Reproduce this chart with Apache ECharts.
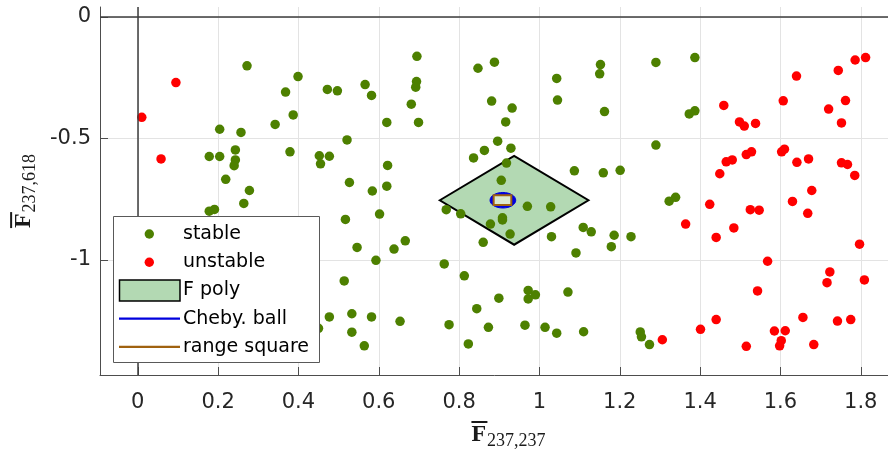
<!DOCTYPE html>
<html><head><meta charset="utf-8">
<script src="https://cdn.jsdelivr.net/npm/echarts@6/dist/echarts.min.js"></script>
<style>html,body{margin:0;padding:0;background:#fff}#c{width:888px;height:451px}</style>
</head><body><div id="c"></div>
<script>
// ---- data ----
const stableX = [0.272,0.399,0.368,0.472,0.497,0.566,0.582,0.695,0.694,0.692,0.681,0.699,0.620,0.387,0.342,0.204,0.257,0.243,0.178,0.204,
  0.243,0.240,0.219,0.278,0.264,0.178,0.191,0.379,0.452,0.477,0.455,0.521,0.622,0.527,0.584,0.620,0.602,0.517,0.768,0.847,
  0.888,0.881,0.932,0.916,0.896,0.929,0.863,0.836,0.918,0.905,0.804,0.970,1.028,0.908,0.908,0.878,0.927,0.860,1.043,1.045,
  1.152,1.150,1.162,1.087,1.159,1.201,1.290,1.387,1.373,1.387,1.290,1.323,1.339,1.109,1.129,1.030,1.186,1.179,1.228,1.091,
  0.763,0.813,0.899,0.972,0.972,0.990,1.071,0.844,0.775,0.873,0.964,1.014,1.043,1.110,0.823,1.251,1.254,1.274,0.546,0.638,
  0.666,0.593,0.514,0.477,0.533,0.582,0.653,0.533,0.564,0.450];
const stableY = [-0.201,-0.245,-0.309,-0.298,-0.304,-0.278,-0.323,-0.162,-0.266,-0.289,-0.359,-0.434,-0.434,-0.403,-0.442,-0.462,-0.475,-0.547,-0.574,-0.574,
  -0.588,-0.612,-0.668,-0.714,-0.767,-0.799,-0.792,-0.555,-0.571,-0.573,-0.604,-0.506,-0.611,-0.681,-0.716,-0.696,-0.811,-0.833,-0.793,-0.211,
  -0.186,-0.346,-0.375,-0.432,-0.511,-0.540,-0.549,-0.580,-0.601,-0.672,-0.810,-0.779,-0.781,-0.826,-0.835,-0.852,-0.893,-0.927,-0.253,-0.342,
  -0.196,-0.234,-0.389,-0.633,-0.641,-0.631,-0.187,-0.167,-0.399,-0.386,-0.527,-0.758,-0.742,-0.866,-0.884,-0.904,-0.898,-0.945,-0.904,-0.971,
  -1.016,-1.065,-1.157,-1.125,-1.160,-1.143,-1.132,-1.200,-1.266,-1.277,-1.268,-1.277,-1.301,-1.295,-1.345,-1.296,-1.316,-1.348,-0.948,-0.955,
  -0.921,-1.001,-1.086,-1.234,-1.221,-1.234,-1.252,-1.297,-1.353,-1.281];
const unstableX = [0.095,0.010,0.058,1.640,1.744,1.786,1.812,1.459,1.498,1.510,1.538,1.607,1.720,1.762,1.752,1.465,1.480,1.515,1.528,1.603,
  1.610,1.641,1.670,1.752,1.767,1.785,1.449,1.678,1.630,1.668,1.424,1.525,1.547,1.364,1.484,1.440,1.797,1.568,1.723,1.716,
  1.809,1.543,1.656,1.440,1.742,1.775,1.401,1.585,1.612,1.306,1.515,1.602,1.598,1.683];
const unstableY = [-0.270,-0.413,-0.584,-0.243,-0.220,-0.177,-0.167,-0.364,-0.432,-0.449,-0.438,-0.345,-0.379,-0.344,-0.436,-0.596,-0.588,-0.566,-0.555,-0.555,
  -0.544,-0.598,-0.584,-0.600,-0.607,-0.652,-0.645,-0.714,-0.759,-0.808,-0.771,-0.793,-0.795,-0.852,-0.868,-0.907,-0.935,-1.005,-1.049,-1.093,
  -1.082,-1.127,-1.236,-1.245,-1.251,-1.245,-1.285,-1.292,-1.291,-1.328,-1.355,-1.332,-1.353,-1.348];
const polyX = [0.752, 0.937, 1.122, 0.937];
const polyY = [-0.754, -0.572, -0.754, -0.937];
const chebyCenter = [0.909, -0.754];
const chebyRadius = 0.032;
const rangeX = [0.886, 0.930];
const rangeY = [-0.774, -0.733];
const xTicks = [0, 0.2, 0.4, 0.6, 0.8, 1, 1.2, 1.4, 1.6, 1.8];
const yTicks = [-1, -0.5, 0];
const legendNames = ['stable', 'unstable', 'F poly', 'Cheby. ball', 'range square'];

// ---- styles ----
const GREEN = '#4d8000', RED = '#ff0000', POLY = '#b3d9b3', BLUE = '#0000dd', BROWN = '#a0620f';
const AX = '#4d4d4d', TXT = '#262626';
const tickFont = {color: TXT, fontSize: 21, fontFamily: 'DejaVu Sans'};
const nameRich = {
  bar: {width: 16, height: 2, lineHeight: 2, backgroundColor: '#1a1a1a', fontSize: 2, align: 'left'},
  F: {fontFamily: 'Liberation Serif', fontWeight: 'bold', fontSize: 24, lineHeight: 22, verticalAlign: 'top', align: 'left', color: '#1a1a1a'},
  s: {fontFamily: 'Liberation Serif', fontSize: 18, padding: [9, 0, 0, 1], verticalAlign: 'top', align: 'left', color: '#1a1a1a'}
};

const chart = echarts.init(document.getElementById('c'), null, {renderer: 'canvas'});
const pairs = (xs, ys) => xs.map((x, i) => [x, ys[i]]);

const legendTop = 217, legendLeft = 113.5, rowH = 28.2;
const legendEls = [
  {type: 'rect', shape: {x: legendLeft, y: legendTop - 0.5, width: 206, height: 146}, style: {fill: '#fff', stroke: '#595959', lineWidth: 1}, z: 100}
];
legendNames.forEach((nm, i) => {
  const cy = legendTop + 17 + i * rowH;
  if (i === 0 || i === 1) {
    legendEls.push({type: 'circle', shape: {cx: 149.3, cy: cy, r: 4.7}, style: {fill: i === 0 ? GREEN : RED}, z: 101});
  } else if (i === 2) {
    legendEls.push({type: 'rect', shape: {x: 119.5, y: cy - 10.5, width: 60.5, height: 21}, style: {fill: POLY, stroke: '#000', lineWidth: 1.5}, z: 101});
  } else {
    legendEls.push({type: 'line', shape: {x1: 119, y1: cy, x2: 180, y2: cy}, style: {stroke: i === 3 ? BLUE : BROWN, lineWidth: 2.2}, z: 101});
  }
  legendEls.push({type: 'text', x: 183, y: cy, style: {text: nm, font: '19px "DejaVu Sans"', fill: '#000', verticalAlign: 'middle', align: 'left'}, z: 101});
});

chart.setOption({
  animation: false,
  backgroundColor: '#fff',
  grid: {left: 100, right: -29, top: 7, bottom: 76, containLabel: false, outerBoundsMode: 'none'},
  xAxis: {
    type: 'value', min: -0.094, max: 1.94,
    axisLine: {show: true, onZero: false, lineStyle: {color: AX, width: 1}},
    axisTick: {show: true, inside: true, length: 8, customValues: xTicks, lineStyle: {color: AX}},
    axisLabel: Object.assign({customValues: xTicks, margin: 17}, tickFont),
    splitLine: {show: true, lineStyle: {color: '#e3e3e3', width: 1}},
    name: '{bar| }\n{F|F}{s|237,237}', nameLocation: 'middle', nameGap: 46,
    nameTextStyle: {rich: nameRich}
  },
  yAxis: {
    type: 'value', min: -1.473, max: 0.041,
    axisLine: {show: true, onZero: false, lineStyle: {color: AX, width: 1}},
    axisTick: {show: true, inside: true, length: 8, customValues: yTicks, lineStyle: {color: AX}},
    axisLabel: Object.assign({customValues: yTicks, margin: 9}, tickFont),
    splitLine: {show: true, lineStyle: {color: '#e3e3e3', width: 1}},
    name: '{bar| }\n{F|F}{s|237,618}', nameLocation: 'middle', nameGap: 59, nameRotate: 90,
    nameTextStyle: {rich: nameRich}
  },
  graphic: {elements: legendEls},
  series: [
    {type: 'line', data: [], z: 1, silent: true,
     markLine: {silent: true, symbol: ['none', 'none'], label: {show: false}, animation: false,
       lineStyle: {color: '#3c3c3c', width: 1.5, type: 'solid'},
       data: [{xAxis: 0}, {yAxis: 0}]}},
    {type: 'custom', name: 'F poly', coordinateSystem: 'cartesian2d', z: 2, silent: true,
     data: [[polyX[0], polyY[0]]],
     renderItem: (p, api) => ({type: 'polygon',
       shape: {points: polyX.map((x, i) => api.coord([x, polyY[i]]))},
       style: {fill: POLY, stroke: '#000', lineWidth: 2}})},
    {type: 'scatter', name: 'stable', data: pairs(stableX, stableY), symbolSize: 9.5, z: 3, silent: true,
     itemStyle: {color: GREEN, opacity: 1}},
    {type: 'scatter', name: 'unstable', data: pairs(unstableX, unstableY), symbolSize: 9.5, z: 3, silent: true,
     itemStyle: {color: RED, opacity: 1}},
    {type: 'custom', name: 'Cheby. ball', coordinateSystem: 'cartesian2d', z: 4, silent: true,
     data: [[chebyCenter[0], chebyCenter[1], chebyRadius]],
     renderItem: (p, api) => {
       const c = api.coord([api.value(0), api.value(1)]);
       const s = api.size([api.value(2), api.value(2)]);
       return {type: 'ellipse', shape: {cx: c[0], cy: c[1], rx: s[0], ry: s[1]}, style: {fill: BLUE, stroke: BLUE, lineWidth: 1}};
     }},
    {type: 'custom', name: 'range square', coordinateSystem: 'cartesian2d', z: 5, silent: true,
     data: [[rangeX[0], rangeY[0], rangeX[1], rangeY[1]]],
     renderItem: (p, api) => {
       const a = api.coord([api.value(0), api.value(3)]);
       const b = api.coord([api.value(2), api.value(1)]);
       return {type: 'rect', shape: {x: a[0], y: a[1], width: b[0] - a[0], height: b[1] - a[1]},
         style: {fill: '#dbe9d0', stroke: BROWN, lineWidth: 2}};
     }}
  ]
});
</script>
</body></html>
